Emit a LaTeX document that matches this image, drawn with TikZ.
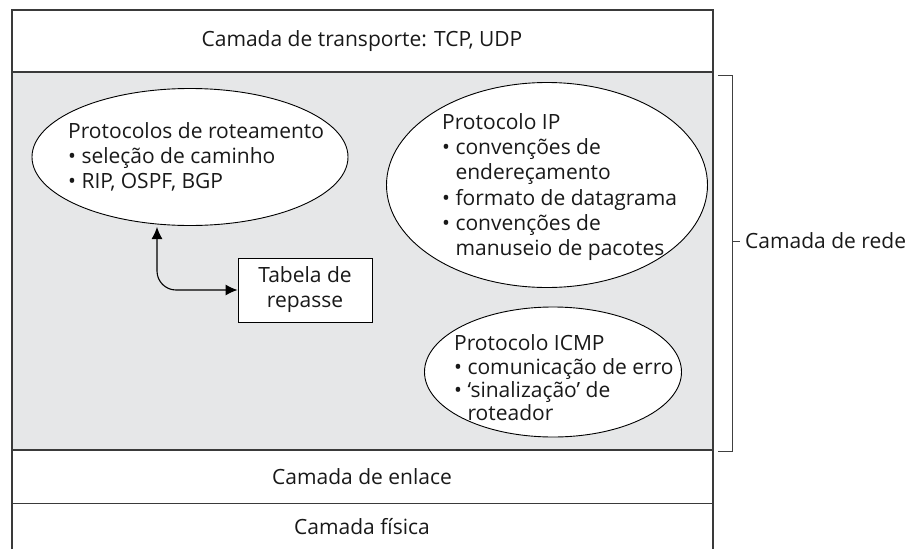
\documentclass[tikz,border=0pt]{standalone}
\usepackage{fontspec}
\setmainfont{Open Sans}
\usetikzlibrary{arrows.meta,shapes.geometric}
\definecolor{layergray}{HTML}{E6E7E8}
\definecolor{framec}{HTML}{3A3A3A}
\begin{document}
\begin{tikzpicture}[x=1pt,y=-1pt,
  frame/.style={draw=framec, line width=1.4pt},
  bubble/.style={ellipse, draw=black, line width=0.9pt, fill=white, inner sep=0pt},
  txt/.style={align=left, inner sep=0pt, font=\fontsize{21}{25}\selectfont, text=black!90},
  lbl/.style={inner sep=0pt, font=\fontsize{21}{25}\selectfont, text=black!90},
  tabbox/.style={draw=black, line width=0.9pt, fill=white, minimum width=134pt, minimum height=64pt, align=center, inner sep=0pt, font=\fontsize{21}{25}\selectfont, text=black!90},
  link/.style={line width=1.1pt, {Latex[length=12pt,width=11pt]}-{Latex[length=12pt,width=11pt]}, rounded corners=19pt},
  brk/.style={draw=black!75, line width=0.8pt}]
\useasboundingbox (0,0) rectangle (910,549);
% layers
\fill[layergray] (12,72) rectangle (713,450);
\draw[frame] (12,549) -- (12,10) -- (713,10) -- (713,549);
\draw[frame] (12,72) -- (713,72);
\draw[frame] (12,450) -- (713,450);
\draw[frame, line width=1pt] (12,503) -- (713,503);
\node[lbl] (transp) at (362,41) {Camada de transporte: TCP, UDP};
\node[lbl] (enlace) at (362,477) {Camada de enlace};
\node[lbl] (fisica) at (362,527) {Camada física};
% routing
\node[bubble, minimum width=316pt, minimum height=137pt] (route) at (190,157) {};
\node[txt, anchor=west] (routetxt) at (68,157) {Protocolos de roteamento\\• seleção de caminho\\• RIP, OSPF, BGP};
% IP
\node[bubble, minimum width=321pt, minimum height=205pt] (ip) at (547,185) {};
\node[txt, anchor=west, font=\fontsize{21}{25.3}\selectfont] (iptxt) at (442,187) {Protocolo IP\\• convenções de\\\hphantom{• }endereçamento\\• formato de datagrama\\• convenções de\\\hphantom{• }manuseio de pacotes};
% ICMP
\node[bubble, minimum width=257pt, minimum height=130pt] (icmp) at (553,372) {};
\node[txt, anchor=west, font=\fontsize{21}{23.3}\selectfont] (icmptxt) at (454,378) {Protocolo ICMP\\• comunicação de erro\\• ‘sinalização’ de\\\hphantom{• }roteador};
% table
\node[tabbox] (tab) at (305,290) {Tabela de\\repasse};
\coordinate (rt) at (157,227);
\draw[link] (rt) |- (tab.west);
% bracket
\draw[brk] (718,75) -- (732,75) -- (732,451) -- (718,451);
\draw[brk] (732,241) -- (740,241);
\node[lbl, anchor=west] (rede) at (745,241) {Camada de rede};
\end{tikzpicture}
\end{document}
